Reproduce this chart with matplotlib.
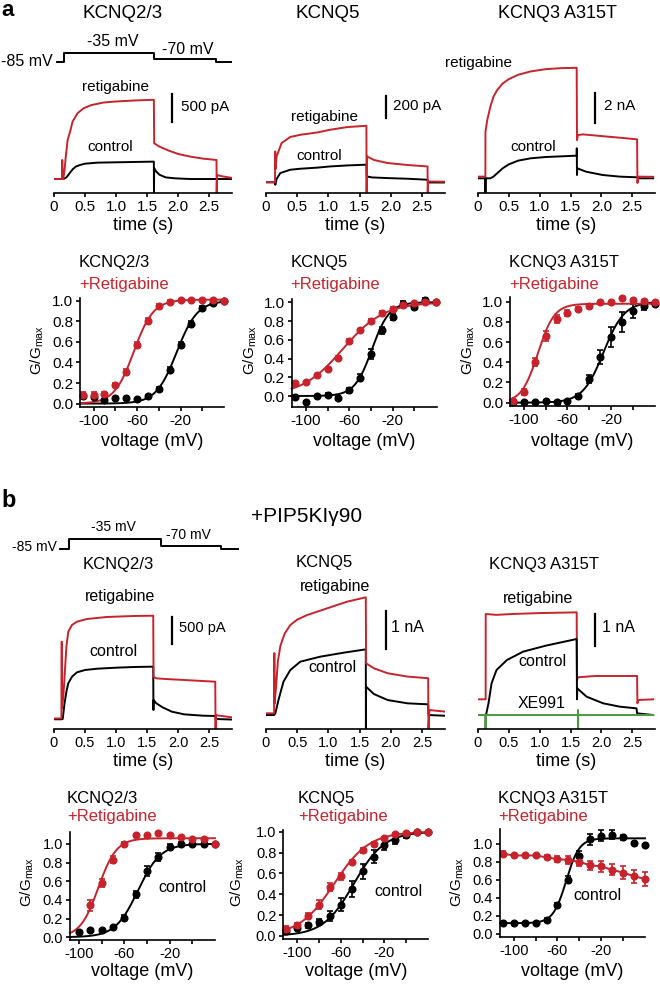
import numpy as np
import matplotlib
matplotlib.use("Agg")
import matplotlib.pyplot as plt

plt.rcParams['font.family'] = ['Liberation Sans', 'DejaVu Sans']
plt.rcParams['mathtext.fontset'] = 'custom'
plt.rcParams['mathtext.rm'] = 'Liberation Sans'
plt.rcParams['mathtext.it'] = 'Liberation Sans:italic'
plt.rcParams['axes.linewidth'] = 1.2

RED = '#c8232c'
GREEN = '#4c9a3f'

# ---------------- data: current traces (t in s, I in pA over holding) ----
time_ticks = [0, 0.5, 1.0, 1.5, 2.0, 2.5]
time_labels = ['0', '0.5', '1.0', '1.5', '2.0', '2.5']

prot_levels = [-85, -35, -70, -85, -85]
prot_a_t = [0.05, 0.166, 1.62, 2.62, 2.87]
prot_b_t = [0.1, 0.247, 1.72, 2.7, 2.97]

a1_ret_t = [0, 0.13, 0.133, 0.137, 0.15, 0.17, 0.19, 0.22, 0.26, 0.30, 0.38, 0.48, 0.6, 0.8, 1.0, 1.3, 1.61, 1.615, 1.7, 1.85, 2.0, 2.2, 2.4, 2.62, 2.623, 2.63, 2.7, 2.87]
a1_ret_i = [0, 0, 335, 0, 0, 160, 394, 688, 835, 1011, 1158, 1247, 1300, 1346, 1364, 1382, 1394, 629, 570, 500, 441, 394, 359, 335, -246, 70, 50, 20]
a1_ctl_t = [0, 0.15, 0.17, 0.2, 0.25, 0.3, 0.35, 0.42, 0.5, 0.7, 1.0, 1.3, 1.61, 1.612, 1.615, 1.65, 1.7, 1.8, 1.95, 2.2, 2.87]
a1_ctl_i = [0, 0, 10, 29, 100, 170, 218, 247, 270, 288, 294, 300, 306, -246, 190, 129, 76, 29, 12, 0, 0]

a2_ret_t = [0, 0.145, 0.148, 0.152, 0.17, 0.25, 0.39, 0.55, 0.82, 1.03, 1.3, 1.61, 1.613, 1.62, 1.73, 1.95, 2.27, 2.59, 2.593, 2.6, 2.88]
a2_ret_i = [0, 0, 280, 120, 235, 357, 412, 432, 453, 478, 502, 514, -95, 235, 203, 175, 157, 144, -95, 7, 5]
a2_ctl_t = [0, 0.14, 0.15, 0.17, 0.23, 0.39, 0.55, 0.82, 1.03, 1.3, 1.61, 1.615, 1.7, 1.95, 2.27, 2.59, 2.6, 2.88]
a2_ctl_i = [0, 0, -23, 30, 84, 114, 123, 133, 144, 153, 160, 53, 44, 38, 32, 23, -2, -2]

a3_ret_t = [0, 0.12, 0.121, 0.15, 0.2, 0.25, 0.31, 0.4, 0.5, 0.65, 0.85, 1.1, 1.35, 1.6, 1.605, 1.62, 1.7, 2.0, 2.3, 2.58, 2.585, 2.6, 2.84]
a3_ret_i = [111, 111, 3100, 3885, 4773, 5439, 5883, 6327, 6616, 6904, 7126, 7282, 7348, 7370, 2550, 2886, 2930, 2819, 2708, 2597, -311, 110, 100]
a3_ctl_t = [0, 0.12, 0.121, 0.123, 0.2, 0.25, 0.31, 0.4, 0.5, 0.65, 0.85, 1.1, 1.35, 1.6, 1.602, 1.605, 1.61, 1.75, 2.02, 2.3, 2.58, 2.6, 2.84]
a3_ctl_i = [0, 0, -960, 0, 0, 111, 333, 666, 932, 1177, 1332, 1421, 1465, 1510, 2000, 222, 667, 444, 222, 111, 67, 0, 0]

b1_ret_t = [0, 0.12, 0.125, 0.128, 0.15, 0.17, 0.2, 0.23, 0.29, 0.37, 0.53, 0.85, 1.28, 1.6, 1.605, 1.65, 1.8, 2.1, 2.4, 2.6, 2.605, 2.61, 2.87]
b1_ret_i = [10, 10, 1415, 200, 400, 775, 1324, 1598, 1720, 1781, 1830, 1867, 1885, 1891, 775, 744, 732, 714, 695, 683, -183, 70, 30]
b1_ctl_t = [0, 0.125, 0.14, 0.17, 0.2, 0.23, 0.29, 0.37, 0.5, 0.7, 1.0, 1.3, 1.6, 1.603, 1.606, 1.65, 1.75, 1.9, 2.1, 2.4, 2.6, 2.61, 2.87]
b1_ctl_i = [-5, -5, 0, 287, 500, 653, 775, 854, 897, 921, 939, 952, 958, 165, 348, 287, 214, 134, 85, 61, 55, 0, -10]

b2_ret_t = [0, 0.13, 0.134, 0.137, 0.16, 0.19, 0.23, 0.3, 0.39, 0.5, 0.66, 0.98, 1.3, 1.6, 1.605, 1.73, 1.95, 2.27, 2.6, 2.605, 2.62, 2.88]
b2_ret_i = [44, 44, 1617, 300, 700, 1400, 1800, 2130, 2349, 2490, 2610, 2784, 2958, 3072, 1349, 1220, 1090, 1003, 960, -365, 130, 87]
b2_ctl_t = [0, 0.13, 0.15, 0.2, 0.28, 0.39, 0.55, 0.87, 1.25, 1.6, 1.602, 1.605, 1.73, 1.95, 2.27, 2.6, 2.605, 2.88]
b2_ctl_i = [0, 0, 42, 392, 870, 1175, 1392, 1523, 1628, 1714, -365, 739, 548, 391, 305, 279, 0, -20]

b3_ret_t = [0, 0.124, 0.125, 0.3, 0.6, 1.0, 1.6, 1.605, 1.62, 1.9, 2.58, 2.585, 2.6, 2.84]
b3_ret_i = [490, 490, 3156, 3130, 3160, 3185, 3208, 1094, 1178, 1219, 1219, 365, 469, 490]
b3_ctl_t = [0, 0.124, 0.125, 0.13, 0.17, 0.22, 0.3, 0.47, 0.73, 1.1, 1.6, 1.605, 1.61, 1.76, 2.03, 2.3, 2.57, 2.58, 2.84]
b3_ctl_i = [0, 0, -437, 0, 365, 990, 1406, 1719, 1979, 2167, 2375, 490, 833, 573, 365, 260, 208, 52, 0]
b3_xe_t = [0, 0.124, 0.125, 0.127, 1.62, 1.621, 1.622, 1.625, 2.84]
b3_xe_i = [0, 0, -437, 0, 0, 156, -437, 0, 0]

# ---------------- data: G/Gmax vs voltage --------------------------------
volt = [-110, -100, -90, -80, -70, -60, -50, -40, -30, -20, -10, 0, 10, 20]
volt_b1 = volt[1:]
volt_b1_ret = volt[2:]

a1_ret_g = [0.08, 0.08, 0.09, 0.18, 0.31, 0.57, 0.80, 0.95, 0.99, 1.01, 1.01, 1.01, 1.01, 1.0]
a1_ret_e = [0.03, 0.03, 0.02, 0.02, 0.03, 0.03, 0.03, 0.02, 0.02, 0.01, 0.01, 0.01, 0.01, 0]
a1_ctl_g = [0.07, 0.06, 0.035, 0.05, 0.05, 0.04, 0.07, 0.14, 0.33, 0.57, 0.77, 0.93, 0.98, 1.0]
a1_ctl_e = [0.01, 0.01, 0.01, 0.01, 0.01, 0.01, 0.01, 0.02, 0.03, 0.03, 0.03, 0.02, 0.01, 0]

a2_ret_g = [0.135, 0.145, 0.22, 0.29, 0.41, 0.59, 0.70, 0.80, 0.89, 0.925, 0.97, 0.99, 1.0, 1.0]
a2_ret_e = [0.02, 0.02, 0.02, 0.02, 0.02, 0.02, 0.02, 0.02, 0.02, 0.02, 0.02, 0.01, 0.01, 0]
a2_ctl_g = [-0.01, -0.06, 0.0, 0.01, -0.02, 0.06, 0.195, 0.45, 0.70, 0.84, 0.98, 0.95, 1.02, 1.0]
a2_ctl_e = [0.01, 0.01, 0.01, 0.02, 0.02, 0.03, 0.04, 0.05, 0.04, 0.03, 0.03, 0.02, 0.03, 0]

a3_ret_g = [0.02, 0.11, 0.40, 0.66, 0.83, 0.89, 0.93, 0.96, 1.0, 1.0, 1.04, 1.02, 1.01, 1.0]
a3_ret_e = [0.01, 0.03, 0.04, 0.05, 0.04, 0.03, 0.02, 0.02, 0.01, 0.01, 0.01, 0.01, 0.01, 0]
a3_ctl_g = [0.01, 0.01, 0.01, 0.015, 0.01, 0.02, 0.07, 0.23, 0.455, 0.65, 0.80, 0.91, 0.96, 0.98]
a3_ctl_e = [0.01, 0.01, 0.01, 0.01, 0.01, 0.01, 0.02, 0.04, 0.07, 0.10, 0.10, 0.07, 0.04, 0.02]

b1_ret_g = [0.34, 0.58, 0.83, 1.0, 1.09, 1.09, 1.12, 1.09, 1.07, 1.05, 1.05, 1.0]
b1_ret_e = [0.06, 0.04, 0.04, 0.02, 0.02, 0.01, 0.01, 0.01, 0.01, 0.01, 0.01, 0]
b1_ctl_g = [0.06, 0.08, 0.08, 0.11, 0.21, 0.46, 0.71, 0.86, 0.97, 1.0, 1.0, 1.0, 1.0]
b1_ctl_e = [0.01, 0.01, 0.01, 0.01, 0.03, 0.04, 0.05, 0.04, 0.03, 0.02, 0.01, 0.01, 0]

b2_ret_g = [0.07, 0.10, 0.19, 0.30, 0.47, 0.57, 0.71, 0.82, 0.88, 0.94, 0.98, 0.99, 1.0, 1.0]
b2_ret_e = [0.02, 0.02, 0.03, 0.04, 0.04, 0.03, 0.02, 0.02, 0.02, 0.01, 0.01, 0.01, 0.01, 0]
b2_ctl_g = [0.05, 0.08, 0.10, 0.13, 0.19, 0.30, 0.45, 0.62, 0.76, 0.87, 0.92, 0.97, 1.0, 1.0]
b2_ctl_e = [0.01, 0.01, 0.02, 0.03, 0.05, 0.06, 0.08, 0.07, 0.06, 0.05, 0.04, 0.03, 0.01, 0]

b3_ret_g = [0.89, 0.87, 0.87, 0.87, 0.85, 0.83, 0.82, 0.80, 0.76, 0.75, 0.71, 0.68, 0.64, 0.61]
b3_ret_e = [0.03, 0.02, 0.02, 0.02, 0.02, 0.03, 0.04, 0.05, 0.05, 0.06, 0.06, 0.07, 0.07, 0.08]
b3_ctl_g = [0.12, 0.12, 0.12, 0.125, 0.155, 0.32, 0.60, 0.86, 1.05, 1.09, 1.10, 1.07, 1.01, 0.99]
b3_ctl_e = [0.01, 0.01, 0.01, 0.01, 0.02, 0.02, 0.04, 0.06, 0.06, 0.06, 0.05, 0.03, 0.01, 0.01]

# Boltzmann fit parameters: (V1/2, slope k, bottom, top)
a1_ret_fit = (-63, 9, 0, 1.01)
a1_ctl_fit = (-23.5, 9.5, 0, 1.0)
a2_ret_fit = (-66, 19, 0, 1.0)
a2_ctl_fit = (-39, 8, 0, 1.0)
a3_ret_fit = (-87, 7.5, 0, 0.98)
a3_ctl_fit = (-27, 9.5, 0, 1.0)
b1_ret_fit = (-83, 8, 0, 1.06)
b1_ctl_fit = (-48, 10, 0, 1.0)
b2_ret_fit = (-66, 16, 0, 1.0)
b2_ctl_fit = (-48, 14, 0, 1.0)
b3_ctl_fit = (-52, 6, 0.12, 1.06)

# ---------------- layout helpers (pixel coords of the 660x984 image) ---
W, H = 660, 984
fig = plt.figure(figsize=(W / 100, H / 100), dpi=100)


def add_ax(x0, y0, x1, y1):
    return fig.add_axes([x0 / W, 1 - y1 / H, (x1 - x0) / W, (y1 - y0) / H])


def txt(x, y, s, ha='center', va='center', **kw):
    fig.text(x / W, 1 - y / H, s, ha=ha, va=va, **kw)


def boltz(v, vh, k, lo, hi):
    return lo + (hi - lo) / (1 + np.exp((vh - v) / k))


def protocol(rect, t, xlim):
    ax = add_ax(*rect)
    ax.step(t, prot_levels, where='post', color='k', lw=1.4)
    ax.set_xlim(*xlim); ax.set_ylim(-90, -30)
    ax.axis('off')


def trace_panel(rect, ylim, traces, bar, fs):
    ax = add_ax(*rect)
    for t, i, col in traces:
        ax.plot(t, i, color=col, lw=1.4)
    ax.set_xlim(0, 2.87); ax.set_ylim(*ylim)
    for s in ['top', 'right', 'left']:
        ax.spines[s].set_visible(False)
    ax.set_yticks([])
    ax.set_xticks(time_ticks)
    ax.set_xticklabels(time_labels, fontsize=fs)
    ax.tick_params(axis='x', direction='out', length=3, width=1.2, pad=2)
    bt, by, bl = bar
    ax.plot([bt, bt], [by, by + bl], color='k', lw=1.6, clip_on=False)


def gv_panel(rect, xlim, ylim, series, fs):
    ax = add_ax(*rect)
    for v, g, e, fit, col in series:
        if fit is not None:
            vv = np.linspace(xlim[0], v[-1], 200)
            ax.plot(vv, boltz(vv, *fit), color=col, lw=1.4, clip_on=False)
            ax.errorbar(v, g, yerr=e, fmt='o', color=col, ms=4.8, capsize=2,
                        elinewidth=1.2, capthick=1.2, clip_on=False)
        else:
            ax.errorbar(v, g, yerr=e, fmt='-o', color=col, ms=4.8, capsize=2, lw=1.4,
                        elinewidth=1.2, capthick=1.2, clip_on=False)
    ax.set_xlim(*xlim); ax.set_ylim(*ylim)
    ax.spines['top'].set_visible(False)
    ax.spines['right'].set_visible(False)
    ax.set_xticks([-100, -60, -20])
    ax.set_xticks([-80, -40, 0], minor=True)
    ax.set_yticks(np.arange(0, 1.01, 0.2))
    ax.set_yticklabels(['%.1f' % y for y in np.arange(0, 1.01, 0.2)], fontsize=fs)
    ax.set_xticklabels(['-100', '-60', '-20'], fontsize=fs)
    ax.tick_params(which='both', direction='out', length=3, width=1.2, pad=2)


# ---------------- panel a --------------------------------------------------
txt(1, 0.5, 'a', ha='left', va='top', fontsize=16, fontweight='bold')
txt(123, 13, 'KCNQ2/3', fontsize=13.5)
txt(328, 13, 'KCNQ5', fontsize=13.5)
txt(557, 13, 'KCNQ3 A315T', fontsize=13)

protocol((54, 51.8, 232, 62.6), prot_a_t, (0, 2.87))
txt(53, 62, '-85 mV', ha='right', fontsize=11.5)
txt(113, 42, '-35 mV', fontsize=11.5)
txt(188, 49, '-70 mV', fontsize=11.5)

trace_panel((54, 75, 232, 193), (-246, 1830),
            [(a1_ctl_t, a1_ctl_i, 'k'), (a1_ret_t, a1_ret_i, RED)], (1.91, 1003, 500), 11)
trace_panel((266, 75, 445, 192.7), (-95, 976),
            [(a2_ctl_t, a2_ctl_i, 'k'), (a2_ret_t, a2_ret_i, RED)], (1.92, 582, 200), 11)
trace_panel((478, 55, 655, 192.7), (-960, 8225),
            [(a3_ctl_t, a3_ctl_i, 'k'), (a3_ret_t, a3_ret_i, RED)], (1.9, 3709, 2000), 11)
for xc in [143, 355, 566]:
    txt(xc, 225, 'time (s)', fontsize=13)

txt(115, 87, 'retigabine', fontsize=11)
txt(110, 147, 'control', fontsize=11)
txt(181, 107, '500 pA', ha='left', fontsize=11)
txt(325, 117, 'retigabine', fontsize=11)
txt(319, 156, 'control', fontsize=11)
txt(393, 106, '200 pA', ha='left', fontsize=11)
txt(479, 63, 'retigabine', fontsize=11)
txt(533, 147, 'control', fontsize=11)
txt(604, 106, '2 nA', ha='left', fontsize=11)

gv_panel((80, 298.3, 224, 406.7), (-112.5, 20), (-0.03, 1.023),
         [(volt, a1_ctl_g, a1_ctl_e, a1_ctl_fit, 'k'),
          (volt, a1_ret_g, a1_ret_e, a1_ret_fit, RED)], 11)
gv_panel((291.7, 299, 436.7, 406.7), (-113, 20.6), (-0.114, 1.035),
         [(volt, a2_ctl_g, a2_ctl_e, a2_ctl_fit, 'k'),
          (volt, a2_ret_g, a2_ret_e, a2_ret_fit, RED)], 11)
gv_panel((510, 296.7, 655, 406), (-112.5, 20), (-0.033, 1.05),
         [(volt, a3_ctl_g, a3_ctl_e, a3_ctl_fit, 'k'),
          (volt, a3_ret_g, a3_ret_e, a3_ret_fit, RED)], 11)

for x0, name, xc, yl in [(79, 'KCNQ2/3', 152, 37), (290.7, 'KCNQ5', 364, 250),
                         (509, 'KCNQ3 A315T', 582, 468)]:
    txt(x0, 263, name, ha='left', fontsize=12)
    txt(x0, 284, '+Retigabine', ha='left', fontsize=12, color=RED)
    txt(xc, 442, 'voltage (mV)', fontsize=13)
    txt(yl, 350, r'G/G$_{\rm max}$', rotation=90, fontsize=11)

# ---------------- panel b --------------------------------------------------
txt(1, 507, 'b', ha='left', va='baseline', fontsize=17, fontweight='bold')
txt(307, 516, '+PIP5KI\u03b390', fontsize=15)
protocol((54, 538, 240, 550), prot_b_t, (0, 3.0))
txt(57, 547, '-85 mV', ha='right', fontsize=10)
txt(113, 527, '-35 mV', fontsize=10)
txt(188, 535, '-70 mV', fontsize=10)
txt(118, 564, 'KCNQ2/3', fontsize=12)
txt(324, 563, 'KCNQ5', fontsize=12)
txt(544, 564, 'KCNQ3 A315T', fontsize=12)

trace_panel((54, 580, 232, 729), (-183, 2544),
            [(b1_ctl_t, b1_ctl_i, 'k'), (b1_ret_t, b1_ret_i, RED)], (1.91, 1372, 500), 10.5)
trace_panel((266, 580, 445, 729), (-365, 3524),
            [(b2_ctl_t, b2_ctl_i, 'k'), (b2_ret_t, b2_ret_i, RED)], (1.92, 1723, 1000), 10.5)
trace_panel((478, 580, 655, 729), (-437.5, 4219),
            [(b3_ret_t, b3_ret_i, RED), (b3_ctl_t, b3_ctl_i, 'k'), (b3_xe_t, b3_xe_i, GREEN)],
            (1.9, 2156, 1000), 10.5)
for xc in [143, 355, 566]:
    txt(xc, 761, 'time (s)', fontsize=13)

txt(120, 597, 'retigabine', fontsize=11.5)
txt(113, 652, 'control', fontsize=11.5)
txt(179, 628, '500 pA', ha='left', fontsize=10.5)
txt(335, 587, 'retigabine', fontsize=11.5)
txt(332, 668, 'control', fontsize=11.5)
txt(391, 627, '1 nA', ha='left', fontsize=11.5)
txt(538, 598, 'retigabine', fontsize=11.5)
txt(542, 662, 'control', fontsize=11.5)
txt(542, 703, 'XE991', fontsize=11.5)
txt(602, 627, '1 nA', ha='left', fontsize=11.5)

gv_panel((70, 831.7, 215, 940), (-108, 20), (-0.03, 1.13),
         [(volt_b1, b1_ctl_g, b1_ctl_e, b1_ctl_fit, 'k'),
          (volt_b1_ret, b1_ret_g, b1_ret_e, b1_ret_fit, RED)], 10.5)
gv_panel((283.3, 830, 428.3, 939), (-112.4, 20), (-0.03, 1.016),
         [(volt, b2_ctl_g, b2_ctl_e, b2_ctl_fit, 'k'),
          (volt, b2_ret_g, b2_ret_e, b2_ret_fit, RED)], 10.5)
gv_panel((500, 829.3, 645, 936.7), (-112.5, 20), (-0.03, 1.16),
         [(volt, b3_ctl_g, b3_ctl_e, b3_ctl_fit, 'k'),
          (volt, b3_ret_g, b3_ret_e, None, RED)], 10.5)

for x0, name, xc, yl in [(67, 'KCNQ2/3', 142, 27), (298, 'KCNQ5', 356, 237),
                         (498, 'KCNQ3 A315T', 572, 457)]:
    txt(x0, 798, name, ha='left', fontsize=12)
    txt(x0, 817, '+Retigabine', ha='left', fontsize=12, color=RED)
    txt(xc, 972, 'voltage (mV)', fontsize=13)
    txt(yl, 882, r'G/G$_{\rm max}$', rotation=90, fontsize=11)
txt(182, 887, 'control', fontsize=11.5)
txt(398, 892, 'control', fontsize=11.5)
txt(597, 896, 'control', fontsize=11.5)

fig.savefig('out.png', dpi=100)
